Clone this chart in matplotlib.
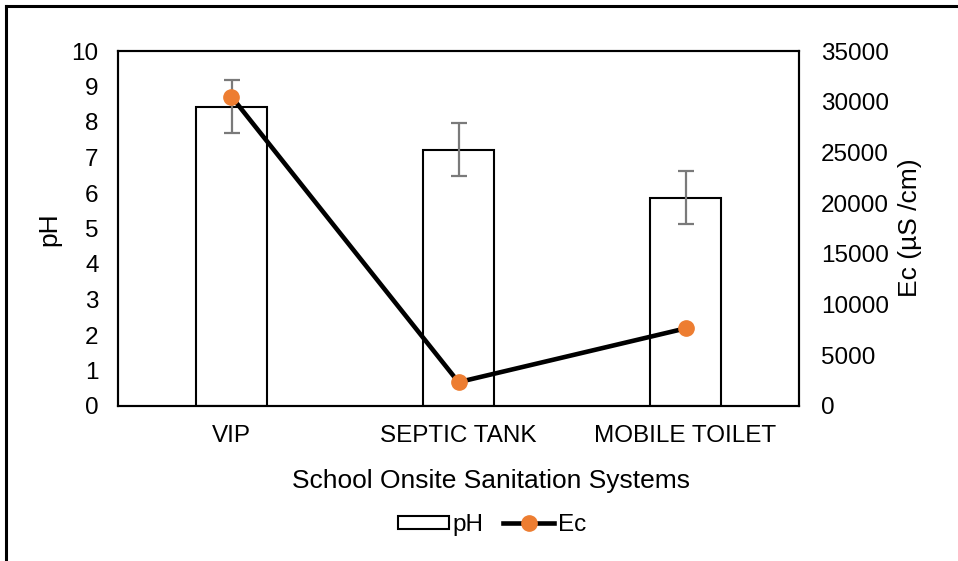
import numpy as np
import matplotlib.pyplot as plt
from matplotlib.lines import Line2D
from matplotlib.patches import Patch

plt.rcParams['font.family'] = ['Liberation Sans', 'DejaVu Sans']

systems = ["VIP", "SEPTIC TANK", "MOBILE TOILET"]
ph = [8.43, 7.22, 5.87]
ph_err = [0.75, 0.75, 0.75]
ec = [30500, 2350, 7650]

fig = plt.figure(figsize=(9.58, 5.61), dpi=100)
ax = fig.add_axes([118 / 958, 1 - 406 / 561, 681 / 958, 355 / 561])
x = np.arange(len(systems))

ax.bar(x, ph, width=0.315, color="white", edgecolor="black", linewidth=1.5,
       yerr=ph_err, error_kw=dict(ecolor="#7a7a7a", elinewidth=1.6, capsize=6, capthick=1.6))
ax.set_xlim(-0.5, 2.5)
ax.set_ylim(0, 10)
ax.set_yticks(range(0, 11))
ax.set_xticks(x)
ax.set_xticklabels(systems)
ax.tick_params(length=0, labelsize=17.5)
ax.tick_params(axis="x", pad=14)
ax.tick_params(axis="y", pad=14)

ax2 = ax.twinx()
ax2.plot(x, ec, color="black", linewidth=3.3, marker="o", markersize=11,
         markerfacecolor="#ED7D31", markeredgecolor="#ED7D31", zorder=3)
ax2.set_ylim(0, 35000)
ax2.set_yticks(range(0, 35001, 5000))
ax2.tick_params(length=0, labelsize=17.5, pad=16)

for a in (ax, ax2):
    for s in a.spines.values():
        s.set_color("black")
        s.set_linewidth(1.5)

fig.text(49 / 958, 1 - 229 / 561, "pH", fontsize=19, rotation=90, ha="center", va="center")
fig.text(910 / 958, 1 - 228 / 561, "Ec (µS /cm)", fontsize=19, rotation=90,
         ha="center", va="center")
fig.text(491 / 958, 1 - 481 / 561, "School Onsite Sanitation Systems",
         fontsize=19, ha="center", va="center")

handles = [Patch(facecolor="white", edgecolor="black", linewidth=1.5),
           Line2D([], [], color="black", linewidth=3.3, marker="o", markersize=11,
                  markerfacecolor="#ED7D31", markeredgecolor="#ED7D31")]
fig.legend(handles, ["pH", "Ec"], loc="center", bbox_to_anchor=(492 / 958, 1 - 525 / 561),
           ncol=2, frameon=False, fontsize=17.5, handlelength=2.1, handleheight=0.47,
           handletextpad=0.15, columnspacing=0.8, borderpad=0.2)

# outer chart border (left and top edges visible)
fig.add_artist(Line2D([6 / 958, 6 / 958], [0, 1 - 6 / 561], color="black", linewidth=2.2,
                      transform=fig.transFigure))
fig.add_artist(Line2D([6 / 958, 1], [1 - 6 / 561, 1 - 6 / 561], color="black", linewidth=2.2,
                      transform=fig.transFigure))

fig.savefig("out.png", dpi=100)
